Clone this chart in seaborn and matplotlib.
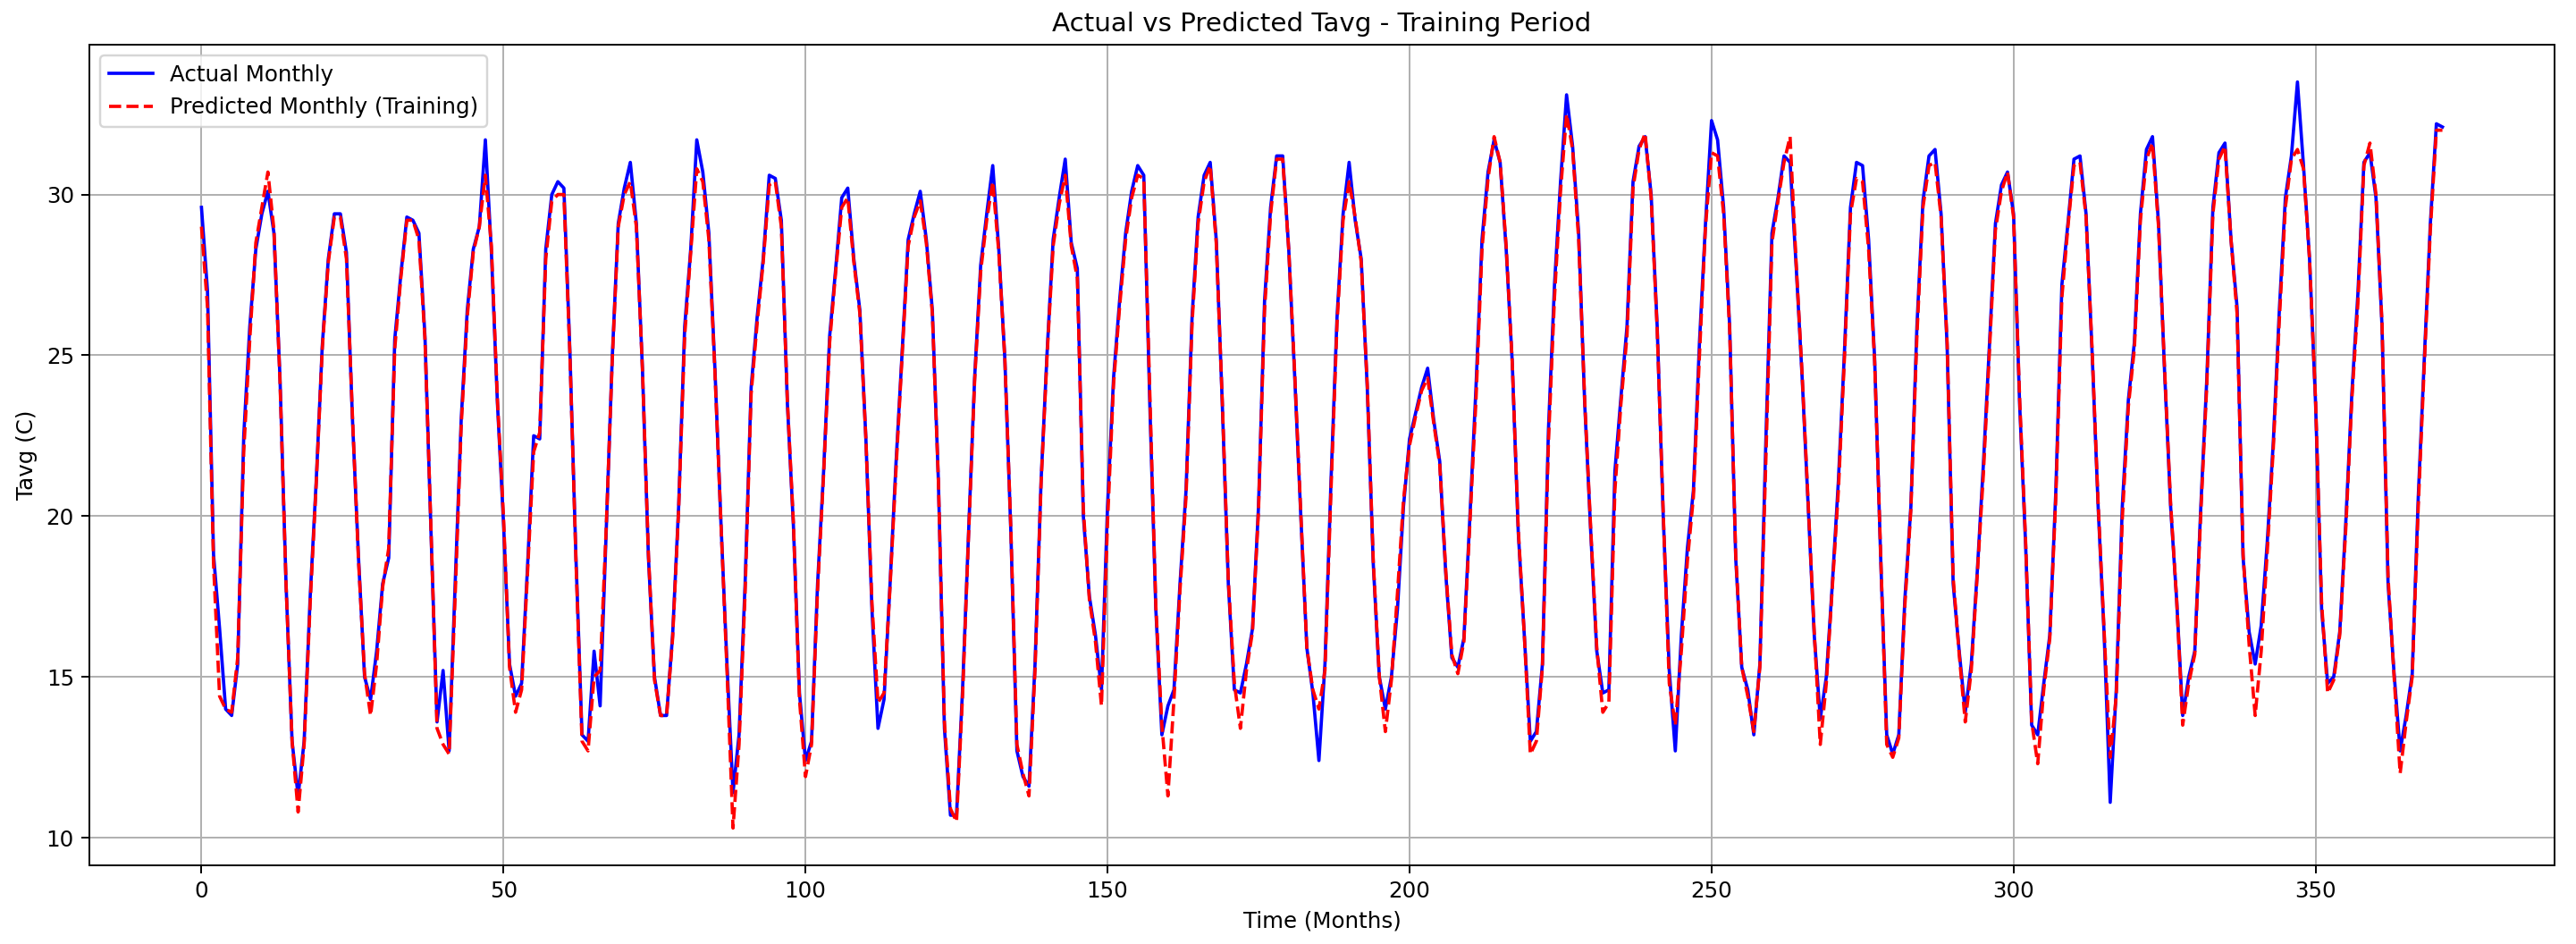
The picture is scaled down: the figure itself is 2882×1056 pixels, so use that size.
import numpy as np
import pandas as pd
import matplotlib
matplotlib.use("Agg")
import matplotlib.pyplot as plt
import seaborn as sns

# monthly average temperature
actual = [
    29.6, 27.0, 18.8, 16.5, 14.0, 13.8, 15.4, 22.5, 25.9, 28.3, 29.4, 30.1,
    28.8, 24.3, 17.9, 13.0, 11.3, 13.0, 17.5, 21.1, 25.3, 28.0, 29.4, 29.4,
    28.2, 23.0, 18.7, 15.0, 14.3, 15.8, 17.9, 18.7, 25.5, 27.5, 29.3, 29.2,
    28.8, 25.6, 19.5, 13.6, 15.2, 12.7, 17.9, 23.0, 26.4, 28.3, 29.0, 31.7,
    28.2, 23.5, 19.8, 15.4, 14.4, 14.8, 18.5, 22.5, 22.4, 28.3, 30.0, 30.4,
    30.2, 25.1, 18.7, 13.2, 13.0, 15.8, 14.1, 19.5, 24.9, 29.1, 30.2, 31.0,
    29.1, 24.6, 18.7, 15.0, 13.8, 13.8, 16.3, 20.3, 25.9, 28.3, 31.7, 30.7,
    28.8, 24.6, 19.8, 15.4, 11.4, 13.2, 17.9, 24.0, 26.2, 28.0, 30.6, 30.5,
    29.2, 23.5, 19.7, 14.5, 12.4, 13.0, 17.9, 21.4, 25.6, 27.7, 29.9, 30.2,
    28.0, 26.4, 22.4, 17.1, 13.4, 14.3, 17.9, 21.7, 25.1, 28.6, 29.4, 30.1,
    28.6, 26.4, 21.1, 13.4, 10.7, 10.7, 14.6, 19.5, 24.3, 27.8, 29.4, 30.9,
    28.3, 24.9, 19.5, 12.7, 11.9, 11.6, 15.4, 21.1, 25.1, 28.6, 29.9, 31.1,
    28.5, 27.7, 20.0, 17.5, 16.3, 14.6, 20.3, 24.3, 26.7, 28.8, 30.1, 30.9,
    30.6, 23.5, 17.1, 13.2, 14.1, 14.6, 17.9, 20.8, 26.2, 29.3, 30.6, 31.0,
    28.6, 23.5, 17.9, 14.6, 14.5, 15.4, 16.5, 20.3, 26.7, 29.6, 31.2, 31.2,
    28.3, 24.3, 20.0, 15.9, 14.5, 12.4, 15.4, 21.1, 26.2, 29.4, 31.0, 29.2,
    28.0, 24.0, 18.5, 15.0, 14.0, 15.0, 17.1, 20.3, 22.4, 23.2, 24.0, 24.6,
    23.0, 21.7, 18.2, 15.6, 15.3, 16.2, 20.0, 24.0, 28.6, 30.7, 31.7, 31.0,
    28.3, 24.8, 19.5, 16.3, 13.0, 13.3, 15.4, 22.7, 27.2, 30.4, 33.1, 31.5,
    28.8, 23.5, 19.5, 15.8, 14.5, 14.6, 21.4, 23.7, 25.9, 30.4, 31.5, 31.8,
    30.0, 25.9, 20.0, 15.2, 12.7, 16.3, 19.0, 20.8, 25.4, 29.1, 32.3, 31.7,
    29.6, 25.9, 18.7, 15.3, 14.6, 13.2, 15.4, 22.4, 28.8, 29.9, 31.2, 31.0,
    27.8, 24.3, 20.3, 16.3, 13.7, 15.0, 17.9, 21.1, 25.1, 29.6, 31.0, 30.9,
    28.6, 24.9, 18.7, 13.2, 12.6, 13.2, 17.4, 20.3, 25.9, 29.8, 31.2, 31.4,
    29.4, 25.3, 17.9, 15.8, 13.9, 15.4, 18.3, 21.6, 25.3, 29.1, 30.3, 30.7,
    29.4, 23.5, 19.1, 13.5, 13.2, 14.8, 16.3, 20.8, 27.2, 29.1, 31.1, 31.2,
    29.4, 25.1, 20.3, 16.3, 11.1, 14.6, 20.3, 23.6, 25.4, 29.4, 31.4, 31.8,
    29.1, 24.5, 20.3, 17.4, 13.8, 15.0, 15.8, 20.3, 24.3, 29.6, 31.3, 31.6,
    28.6, 26.5, 18.7, 16.4, 15.4, 16.6, 19.2, 22.3, 26.4, 29.9, 31.2, 33.5,
    30.9, 28.0, 23.5, 17.1, 14.8, 15.0, 16.4, 19.8, 23.8, 26.9, 31.0, 31.3,
    29.9, 25.9, 17.9, 15.1, 12.7, 13.8, 15.1, 20.6, 24.9, 29.1, 32.2, 32.1,
]

predicted = [
    29.0, 26.5, 18.5, 14.4, 14.0, 13.9, 15.6, 22.0, 25.5, 28.5, 29.6, 30.7,
    28.9, 24.2, 17.9, 13.0, 10.8, 12.9, 17.3, 21.0, 25.2, 27.9, 29.3, 29.3,
    28.0, 23.1, 18.6, 15.1, 13.8, 15.4, 17.8, 19.0, 25.2, 27.4, 29.2, 29.2,
    28.6, 25.5, 19.6, 13.4, 12.9, 12.6, 17.5, 22.8, 26.2, 28.2, 29.0, 30.6,
    28.4, 23.6, 20.0, 15.3, 13.9, 14.6, 18.3, 22.0, 22.6, 28.0, 29.8, 30.0,
    30.0, 25.0, 18.6, 13.0, 12.7, 15.0, 15.2, 19.6, 24.8, 29.0, 30.0, 30.4,
    29.0, 24.6, 18.8, 14.9, 13.8, 13.8, 16.2, 20.2, 25.6, 28.2, 30.8, 30.4,
    28.6, 24.5, 19.8, 15.2, 10.3, 12.9, 17.6, 23.8, 26.0, 27.9, 30.3, 30.4,
    29.0, 23.6, 19.8, 14.3, 11.9, 12.9, 17.7, 21.3, 25.4, 27.6, 29.6, 29.9,
    27.9, 26.3, 22.4, 17.3, 14.2, 14.5, 17.8, 21.5, 25.0, 28.4, 29.3, 29.8,
    28.5, 26.3, 21.1, 13.6, 10.9, 10.5, 14.4, 19.4, 24.2, 27.6, 29.2, 30.4,
    28.2, 24.9, 19.6, 12.9, 12.0, 11.3, 15.2, 21.0, 25.0, 28.4, 29.7, 30.6,
    28.4, 27.4, 20.2, 17.4, 16.1, 14.1, 19.8, 24.1, 26.5, 28.6, 29.9, 30.6,
    30.5, 23.8, 17.2, 13.5, 11.3, 14.3, 17.7, 20.6, 26.0, 29.1, 30.4, 30.9,
    28.5, 23.6, 18.0, 14.8, 13.4, 15.2, 16.4, 20.2, 26.4, 29.4, 31.1, 31.1,
    28.3, 24.4, 20.1, 15.9, 14.6, 14.0, 15.2, 20.8, 26.0, 29.2, 30.4, 29.3,
    27.9, 24.1, 18.6, 15.0, 13.3, 14.9, 17.6, 20.5, 22.2, 23.1, 23.9, 24.3,
    22.9, 21.6, 18.3, 15.7, 15.1, 16.1, 19.8, 23.6, 28.3, 30.5, 31.8, 31.0,
    28.4, 24.8, 19.6, 16.3, 12.6, 13.0, 15.3, 22.3, 26.8, 30.1, 32.5, 31.4,
    28.6, 23.6, 19.6, 15.9, 13.9, 14.2, 20.8, 23.5, 25.6, 30.2, 31.4, 31.9,
    29.9, 25.8, 20.1, 14.8, 13.5, 15.8, 18.6, 20.6, 25.0, 29.0, 31.3, 31.2,
    29.4, 25.8, 18.8, 15.3, 14.4, 13.3, 15.3, 21.8, 28.5, 29.8, 31.0, 31.8,
    27.9, 24.4, 20.4, 16.4, 12.9, 14.8, 17.8, 20.8, 24.9, 29.4, 30.5, 30.4,
    28.3, 24.8, 18.8, 12.9, 12.5, 13.1, 17.2, 20.2, 25.6, 29.6, 30.9, 31.0,
    29.3, 25.4, 18.1, 15.7, 13.6, 15.2, 18.2, 21.3, 25.1, 28.9, 30.1, 30.7,
    29.3, 23.7, 19.2, 13.6, 12.3, 14.6, 16.2, 20.6, 26.8, 29.0, 30.9, 31.0,
    29.3, 25.2, 20.4, 16.4, 12.5, 14.4, 19.9, 23.4, 25.2, 29.2, 31.1, 31.6,
    29.0, 24.6, 20.4, 17.4, 13.5, 14.8, 15.7, 20.1, 24.1, 29.4, 31.1, 31.5,
    28.6, 26.3, 18.8, 16.0, 13.8, 15.8, 18.9, 22.1, 26.1, 29.6, 31.1, 31.4,
    30.8, 28.0, 23.6, 17.3, 14.5, 14.9, 16.3, 19.6, 23.6, 26.6, 30.9, 31.6,
    30.0, 26.0, 18.1, 15.0, 12.0, 13.6, 15.0, 20.3, 24.7, 28.9, 32.0, 32.0,
]

months = list(range(len(actual)))

df = pd.DataFrame({"month": months, "actual": actual, "predicted": predicted})

fig, ax = plt.subplots(figsize=(2883 / 176, 1056 / 176), dpi=176)
fig.subplots_adjust(left=0.0347, right=0.9913, bottom=0.0833, top=0.9527)

sns.lineplot(data=df, x="month", y="actual", color="blue", linewidth=1.5,
             label="Actual Monthly", estimator=None, ax=ax)
sns.lineplot(data=df, x="month", y="predicted", color="red", linewidth=1.5,
             linestyle="--", label="Predicted Monthly (Training)",
             estimator=None, ax=ax)

ax.set_title("Actual vs Predicted Tavg - Training Period")
ax.set_xlabel("Time (Months)")
ax.set_ylabel("Tavg (C)")
ax.grid(True)
ax.legend(loc="upper left")

fig.savefig("out.png", dpi=176)
